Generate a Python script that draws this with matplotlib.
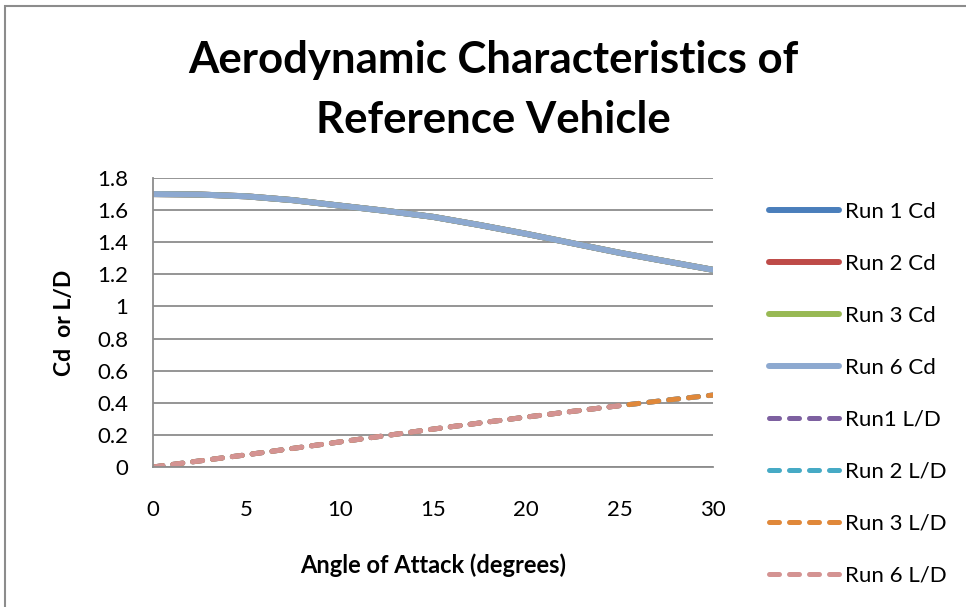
import numpy as np
import matplotlib.pyplot as plt
from matplotlib.patches import Rectangle

# Data
angle = [0, 2.5, 5, 7.5, 10, 12.5, 15, 17.5, 20, 22.5, 25, 27.5, 30]
cd_run1 = [1.700, 1.697, 1.686, 1.662, 1.628, 1.595, 1.558, 1.507, 1.452, 1.393, 1.334, 1.281, 1.228]
cd_run2 = [1.700, 1.697, 1.686, 1.662, 1.628, 1.595, 1.558, 1.507, 1.452, 1.393, 1.334, 1.281, 1.228]
cd_run3 = [1.700, 1.697, 1.686, 1.662, 1.628, 1.595, 1.558, 1.507, 1.452, 1.393, 1.334, 1.281, 1.228]
cd_run6 = [1.700, 1.697, 1.686, 1.662, 1.628, 1.595, 1.558, 1.507, 1.452, 1.393, 1.334, 1.281, 1.228]
ld_run1 = [0.0, 0.038, 0.076, 0.116, 0.156, 0.196, 0.236, 0.274, 0.311, 0.347, 0.382, 0.416, 0.448]
ld_run2 = [0.0, 0.038, 0.076, 0.116, 0.156, 0.196, 0.236, 0.274, 0.311, 0.347, 0.382, 0.416, 0.448]
ld_run3 = [0.0, 0.038, 0.076, 0.116, 0.156, 0.196, 0.236, 0.274, 0.311, 0.347, 0.382, 0.416, 0.448]
angle6 = [0, 2.5, 5, 7.5, 10, 12.5, 15, 17.5, 20, 22.5, 25]
ld_run6 = [0.0, 0.038, 0.076, 0.116, 0.156, 0.196, 0.236, 0.274, 0.311, 0.347, 0.382]

plt.rcParams['font.family'] = ['Lato', 'DejaVu Sans']

fig = plt.figure(figsize=(9.66, 6.07), dpi=100)
W, H = 966, 607
ax = fig.add_axes([153 / W, (H - 467) / H, 560 / W, 289 / H])

# chart area frame
fig.patches.append(Rectangle((5 / W, -0.1), 1.2, (H - 6) / H + 0.1, transform=fig.transFigure,
                             fill=False, edgecolor='#8c8c8c', linewidth=1.5))

solid = dict(linewidth=4.3, solid_capstyle='round')
dash = dict(linewidth=3.6, dashes=(2, 2), dash_capstyle='round')

ax.plot(angle, cd_run1, color='#4a7ebb', label='Run 1 Cd', **solid)
ax.plot(angle, cd_run2, color='#be4b48', label='Run 2 Cd', **solid)
ax.plot(angle, cd_run3, color='#98b954', label='Run 3 Cd', **solid)
ax.plot(angle, cd_run6, color='#8da9d0', label='Run 6 Cd', **solid)
ax.plot(angle, ld_run1, color='#7d60a0', label='Run1 L/D', **dash)
ax.plot(angle, ld_run2, color='#46aac5', label='Run 2 L/D', **dash)
ax.plot(angle, ld_run3, color='#e0883a', label='Run 3 L/D', **dash)
ax.plot(angle6, ld_run6, color='#d49392', label='Run 6 L/D', **dash)

ax.set_xlim(0, 30)
ax.set_ylim(0, 1.8)
ax.set_xticks(np.arange(0, 31, 5))
ax.set_yticks(np.arange(0, 1.81, 0.2))
ax.set_yticklabels(['0', '0.2', '0.4', '0.6', '0.8', '1', '1.2', '1.4', '1.6', '1.8'])
ax.grid(axis='y', color='#8c8c8c', linewidth=1.3)
ax.set_axisbelow(True)
for s in ['top', 'right']:
    ax.spines[s].set_visible(False)
for s in ['left', 'bottom']:
    ax.spines[s].set_color('#8c8c8c')
    ax.spines[s].set_linewidth(1.3)
ax.tick_params(axis='x', length=0, pad=24, labelsize=16)
ax.tick_params(axis='y', length=0, pad=18, labelsize=16)

ax.set_xlabel('Angle of Attack (degrees)', fontsize=17, fontweight='bold', labelpad=24)
ax.set_ylabel('Cd  or L/D', fontsize=16.5, fontweight='bold', labelpad=16)

fig.text(493 / W, 1 - 90 / H, 'Aerodynamic Characteristics of\nReference Vehicle',
         ha='center', va='center', fontsize=31.5, fontweight='bold', linespacing=1.58)

ax.legend(loc='upper left', bbox_to_anchor=(769 / W, 1 - 202 / H), bbox_transform=fig.transFigure,
          frameon=False, fontsize=16, handlelength=3.15, handletextpad=0.28, labelspacing=1.44,
          borderaxespad=0, borderpad=0)

fig.savefig('out.png', dpi=100)
